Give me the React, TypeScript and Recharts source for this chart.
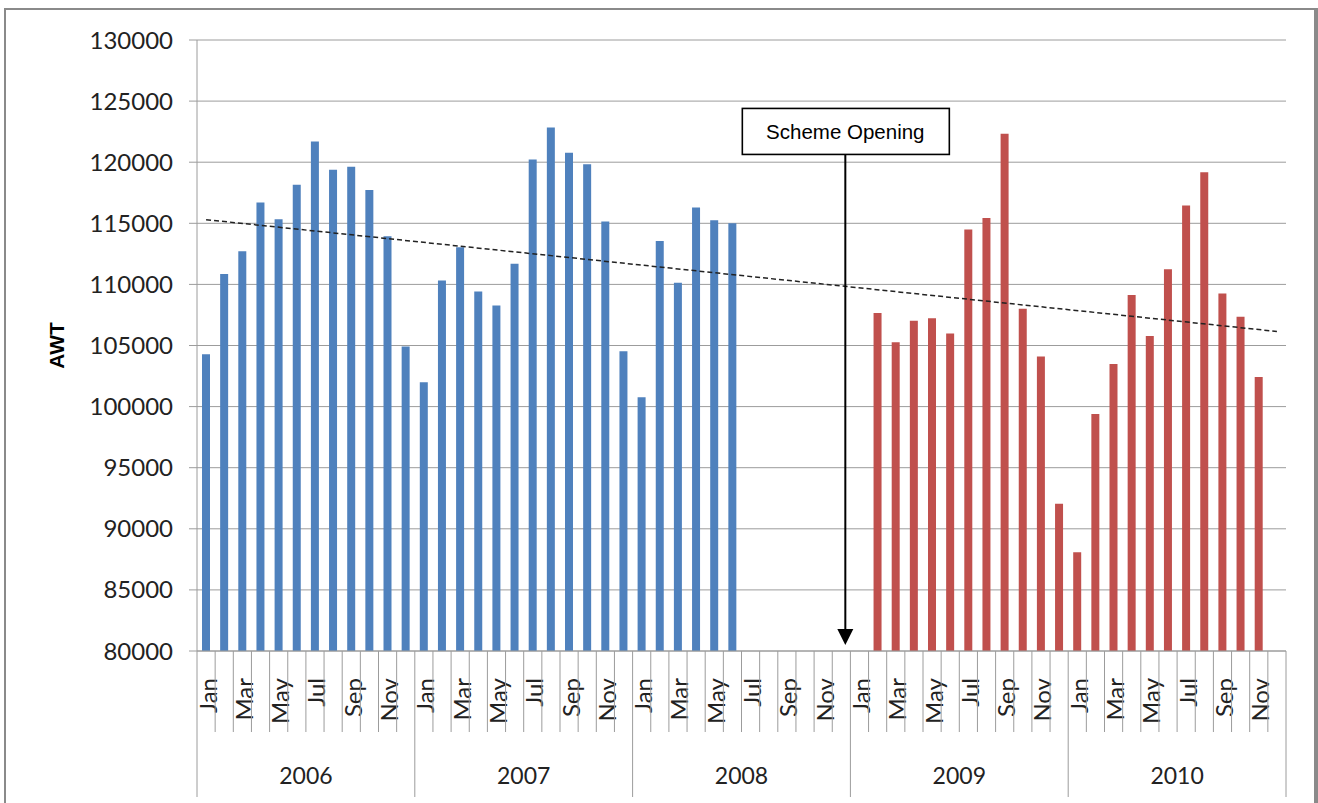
import { BarChart, Bar, Cell, XAxis, YAxis, CartesianGrid, ReferenceLine, Label } from "recharts";

const MONTHS = ["Jan", "Feb", "Mar", "Apr", "May", "Jun", "Jul", "Aug", "Sep", "Oct", "Nov", "Dec"];
const YEARS = ["2006", "2007", "2008", "2009", "2010"];
// years before the scheme opened are drawn in blue, the rest in red
const YEARS_BEFORE_SCHEME = 3;

const AWT_2006 = [104280, 110860, 112720, 116710, 115330, 118150, 121700, 119380, 119630, 117730, 113950, 104910];
const AWT_2007 = [102000, 110320, 113050, 109410, 108270, 111700, 120230, 122840, 120770, 119840, 115150, 104520];
const AWT_2008 = [100770, 113560, 110140, 116290, 115240, 115000, null, null, null, null, null, null];
const AWT_2009 = [null, 107650, 105260, 107030, 107240, 105990, 114490, 115430, 122330, 108000, 104090, 92060];
const AWT_2010 = [88090, 99400, 103480, 109130, 105780, 111230, 116450, 119180, 109250, 107350, 102430, null];

const Y_TICKS = [80000, 85000, 90000, 95000, 100000, 105000, 110000, 115000, 120000, 125000, 130000];

// linear trend line end points
const TREND_START = 115300;
const TREND_END = 106150;

const SCHEME_LABEL = "Scheme Opening";
const SCHEME_MONTH = "Dec 2008";
const SCHEME_BOX_TOP = 124400;

const SERIES = [AWT_2006, AWT_2007, AWT_2008, AWT_2009, AWT_2010];

const data = YEARS.flatMap((yr, yi) =>
  MONTHS.map((m, mi) => ({ month: `${m} ${yr}`, awt: SERIES[yi][mi], yi }))
);

const W = 1318;
const H = 803;
const LEFT = 197;
const RIGHT = 32;
const TOP = 40;
const X_AXIS_H = 152;
const BAND = (W - LEFT - RIGHT) / data.length;

const GRID = "#9c9c9c";
const BLUE = "#4F81BD";
const RED = "#C0504D";
const FONT = "Lato, 'Open Sans', sans-serif";

function MonthTick(props: any) {
  const { x, y, index } = props;
  const left = x - BAND / 2;
  const mi = index % 12;
  const yi = Math.floor(index / 12);
  return (
    <g>
      <line x1={left} y1={y} x2={left} y2={mi === 0 ? y + 146 : y + 81} stroke={GRID} strokeWidth={1} />
      {index === data.length - 1 && (
        <line x1={x + BAND / 2} y1={y} x2={x + BAND / 2} y2={y + 146} stroke={GRID} strokeWidth={1} />
      )}
      {mi % 2 === 0 && (
        <text
          x={x + 1}
          y={y + 27}
          transform={`rotate(-90 ${x + 1} ${y + 27})`}
          textAnchor="end"
          dominantBaseline="central"
          fontFamily={FONT}
          fontSize={24}
          fill="#222"
        >
          {MONTHS[mi]}
        </text>
      )}
      {mi === 6 && (
        <text x={left} y={y + 124} textAnchor="middle" dominantBaseline="central" fontFamily={FONT} fontSize={23} fill="#222">
          {YEARS[yi]}
        </text>
      )}
    </g>
  );
}

function AwtLabel(props: any) {
  const { viewBox } = props;
  const cx = 56;
  const cy = viewBox.y + viewBox.height / 2;
  return (
    <text
      x={cx}
      y={cy}
      transform={`rotate(-90 ${cx} ${cy})`}
      textAnchor="middle"
      dominantBaseline="central"
      fontFamily="'Liberation Sans', Arial, sans-serif"
      fontWeight="bold"
      fontSize={21}
      fill="#000"
    >
      AWT
    </text>
  );
}

function SchemeArrow(p: any) {
  const x = p.x1 + 4;
  const top = p.y1;
  const bottom = p.y2;
  const boxH = 46;
  return (
    <g>
      <rect x={x - 103} y={top} width={207} height={boxH} fill="#fff" stroke="#000" strokeWidth={1.6} />
      <text
        x={x}
        y={top + boxH / 2}
        textAnchor="middle"
        dominantBaseline="central"
        fontFamily="'Liberation Sans', Arial, sans-serif"
        fontSize={20.5}
        fill="#000"
      >
        {SCHEME_LABEL}
      </text>
      <line x1={x} y1={top + boxH} x2={x} y2={bottom - 20} stroke="#000" strokeWidth={2} />
      <polygon points={`${x - 8},${bottom - 22} ${x + 8},${bottom - 22} ${x},${bottom - 6}`} fill="#000" />
    </g>
  );
}

export default function App() {
  return (
    <div style={{ position: "absolute", left: 0, top: 0, width: W, height: H, background: "#fff", overflow: "hidden" }}>
      <div
        style={{
          position: "absolute",
          left: 4,
          top: 8,
          width: 1314,
          height: 900,
          boxSizing: "border-box",
          borderLeft: "2px solid #8a8a8a",
          borderTop: "2px solid #8a8a8a",
          borderRight: "4px solid #8a8a8a",
        }}
      />
      <div style={{ position: "absolute", left: 0, top: 0 }}>
        <BarChart width={W} height={H} data={data} margin={{ top: TOP, right: RIGHT, left: 0, bottom: 0 }}>
          <CartesianGrid vertical={false} stroke={GRID} strokeWidth={1} />
          <XAxis
            dataKey="month"
            interval={0}
            height={X_AXIS_H}
            tickSize={0}
            tickMargin={0}
            tickLine={false}
            axisLine={{ stroke: GRID }}
            tick={(props: any) => <MonthTick {...props} />}
          />
          <YAxis
            width={LEFT}
            domain={[80000, 130000]}
            ticks={Y_TICKS}
            interval={0}
            allowDataOverflow
            tickSize={8}
            tickMargin={16}
            axisLine={{ stroke: GRID }}
            tickLine={{ stroke: GRID }}
            tick={{ fontFamily: FONT, fontSize: 24, fill: "#222" }}
          >
            <Label content={AwtLabel} />
          </YAxis>
          <Bar dataKey="awt" barSize={8} isAnimationActive={false}>
            {data.map((d, i) => (
              <Cell key={i} fill={d.yi < YEARS_BEFORE_SCHEME ? BLUE : RED} />
            ))}
          </Bar>
          <ReferenceLine
            segment={[
              { x: data[0].month, y: TREND_START },
              { x: data[data.length - 1].month, y: TREND_END },
            ]}
            stroke="#222"
            strokeWidth={1.5}
            strokeDasharray="5 3"
          />
          <ReferenceLine
            segment={[
              { x: SCHEME_MONTH, y: SCHEME_BOX_TOP },
              { x: SCHEME_MONTH, y: 80000 },
            ]}
            shape={SchemeArrow}
          />
        </BarChart>
      </div>
    </div>
  );
}
